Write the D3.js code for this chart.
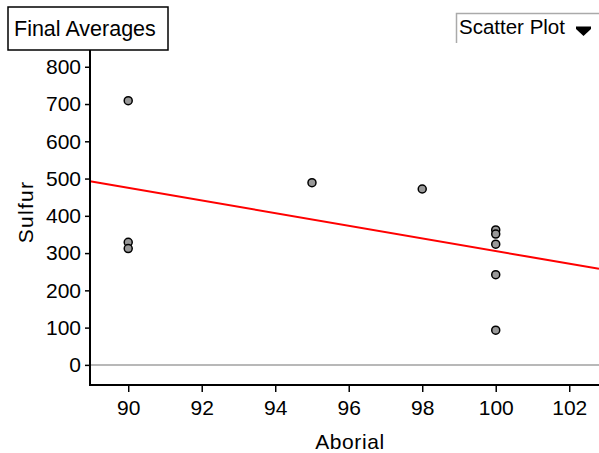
<!DOCTYPE html>
<html>
<head>
<meta charset="utf-8">
<script src="https://cdn.jsdelivr.net/npm/d3@7"></script>
<style>
  body { margin: 0; background: #fff; }
  svg { font-family: "Liberation Sans", Arial, sans-serif; }
</style>
</head>
<body>
<div id="chart"></div>
<script>
// data
const aborial = [90, 90, 90, 95, 98, 100, 100, 100, 100, 100];
const sulfur  = [709, 329, 312, 489, 472, 362, 351, 324, 242, 93];
const xTicks = [90, 92, 94, 96, 98, 100, 102];
const yTicks = [0, 100, 200, 300, 400, 500, 600, 700, 800];

const width = 599, height = 453;
const plotLeft = 90, plotRight = 599, plotTop = 50, plotBottom = 385;

const svg = d3.select("#chart").append("svg")
  .attr("width", width)
  .attr("height", height);

const x = d3.scaleLinear().domain([88.96, 102.81]).range([plotLeft, plotRight]);
const y = d3.scaleLinear().domain([-54, 845]).range([plotBottom, plotTop]);

// zero line
svg.append("line")
  .attr("x1", plotLeft).attr("x2", plotRight)
  .attr("y1", y(0)).attr("y2", y(0))
  .attr("stroke", "#a0a0a0").attr("stroke-width", 1.5);

// least squares line
const mx = d3.mean(aborial), my = d3.mean(sulfur);
const sxy = d3.sum(aborial, (v, i) => (v - mx) * (sulfur[i] - my));
const sxx = d3.sum(aborial, v => (v - mx) * (v - mx));
const slope = sxy / sxx, icept = my - slope * mx;
const [x0, x1] = x.domain();
svg.append("line")
  .attr("x1", x(x0)).attr("y1", y(icept + slope * x0))
  .attr("x2", x(x1)).attr("y2", y(icept + slope * x1))
  .attr("stroke", "#ff0000").attr("stroke-width", 2);

// points
svg.selectAll("circle.pt")
  .data(aborial.map((v, i) => [v, sulfur[i]]))
  .join("circle")
  .attr("class", "pt")
  .attr("cx", d => x(d[0]))
  .attr("cy", d => y(d[1]))
  .attr("r", 4)
  .attr("fill", "#999")
  .attr("stroke", "#000")
  .attr("stroke-width", 1.5);

// axes
const xAxis = svg.append("g")
  .attr("transform", `translate(0,${plotBottom})`)
  .call(d3.axisBottom(x).tickValues(xTicks).tickSize(7).tickPadding(8));
const yAxis = svg.append("g")
  .attr("transform", `translate(${plotLeft},0)`)
  .call(d3.axisLeft(y).tickValues(yTicks).tickSize(5).tickPadding(4));

[xAxis, yAxis].forEach(g => {
  g.select(".domain").remove();
  g.selectAll(".tick line").attr("stroke", "#000").attr("stroke-width", 1.5);
  g.selectAll(".tick text")
    .attr("fill", "#000")
    .style("font-size", "21px")
    .style("font-family", "Liberation Sans, Arial, sans-serif");
});

svg.append("line")
  .attr("x1", plotLeft).attr("x2", plotRight)
  .attr("y1", plotBottom).attr("y2", plotBottom)
  .attr("stroke", "#000").attr("stroke-width", 2);
svg.append("line")
  .attr("x1", plotLeft).attr("x2", plotLeft)
  .attr("y1", plotTop).attr("y2", plotBottom + 1)
  .attr("stroke", "#000").attr("stroke-width", 2);

// axis titles
svg.append("text")
  .attr("x", 350).attr("y", 449)
  .attr("text-anchor", "middle")
  .style("font-size", "21px")
  .style("letter-spacing", "0.6px")
  .text("Aborial");
svg.append("text")
  .attr("transform", `translate(33,212) rotate(-90)`)
  .attr("text-anchor", "middle")
  .style("font-size", "21px")
  .style("letter-spacing", "1.3px")
  .text("Sulfur");

// title box
svg.append("rect")
  .attr("x", 8).attr("y", 7).attr("width", 160).attr("height", 43)
  .attr("fill", "#fff").attr("stroke", "#000").attr("stroke-width", 1.5);
svg.append("text")
  .attr("x", 14).attr("y", 36)
  .style("font-size", "21.5px")
  .text("Final Averages");

// plot-type menu
svg.append("path")
  .attr("d", `M456.5,43V13.5H599`)
  .attr("fill", "none").attr("stroke", "#aaa").attr("stroke-width", 1.5);
svg.append("text")
  .attr("x", 459).attr("y", 34)
  .style("font-size", "20.5px")
  .text("Scatter Plot");
svg.append("path")
  .attr("d", "M576,26.5H591V29L583.5,36L576,29Z")
  .attr("fill", "#000");
</script>
</body>
</html>
